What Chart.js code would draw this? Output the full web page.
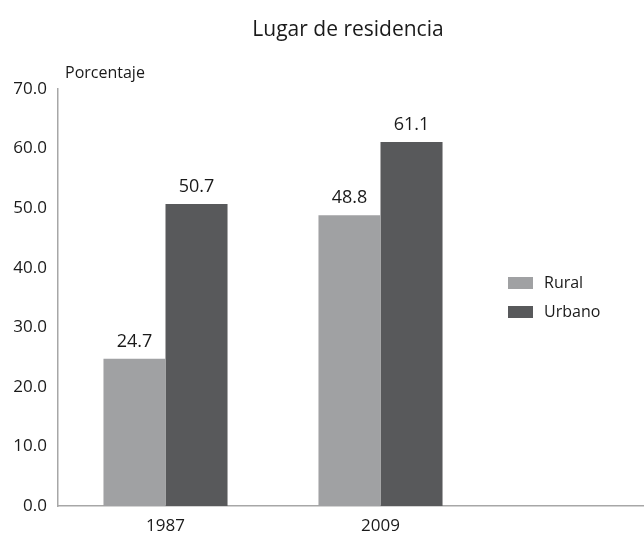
<!DOCTYPE html>
<html>
<head>
<meta charset="utf-8">
<script src="https://cdn.jsdelivr.net/npm/chart.js@4"></script>
<style>
  html, body { margin: 0; padding: 0; background: #fff; overflow: hidden; width: 644px; height: 533px; }
  canvas { display: block; }
</style>
</head>
<body>
<canvas id="residenciaChart" width="712" height="548"></canvas>
<script>
const ctx = document.getElementById('residenciaChart').getContext('2d');

const years = ['1987', '2009', ''];
const rural = [24.7, 48.8, null];
const urbano = [50.7, 61.1, null];
const seriesNames = ['Rural', 'Urbano'];
const seriesColors = ['#a0a1a3', '#58595b'];
const yTicks = [0, 10, 20, 30, 40, 50, 60, 70];

const FONT = '"Open Sans", "Noto Sans", sans-serif';
const TEXT = '#1a1a1a';
const AXIS = '#a7a7a7';

// title, y label, value labels and legend
const extrasPlugin = {
  id: 'extrasPlugin',
  afterDatasetsDraw(chart) {
    const { ctx, chartArea: { top, left } } = chart;
    ctx.save();
    ctx.fillStyle = TEXT;

    ctx.font = '21px ' + FONT;
    ctx.textAlign = 'center';
    ctx.textBaseline = 'alphabetic';
    ctx.fillText('Lugar de residencia', 348, 36);

    ctx.font = '16px ' + FONT;
    ctx.textAlign = 'left';
    ctx.fillText('Porcentaje', left + 7, top - 11);

    ctx.font = '18px ' + FONT;
    ctx.textAlign = 'center';
    chart.data.datasets.forEach((ds, di) => {
      chart.getDatasetMeta(di).data.forEach((bar, i) => {
        if (ds.data[i] == null) return;
        ctx.fillText(ds.data[i].toFixed(1), bar.x, bar.y - 12);
      });
    });

    ctx.font = '16px ' + FONT;
    ctx.textAlign = 'left';
    ctx.textBaseline = 'middle';
    seriesNames.forEach((name, i) => {
      const y = 283 + i * 29;
      ctx.fillStyle = seriesColors[i];
      ctx.fillRect(508, y - 6, 25, 12);
      ctx.fillStyle = TEXT;
      ctx.fillText(name, 544, y);
    });
    ctx.restore();
  }
};

new Chart(ctx, {
  type: 'bar',
  data: {
    labels: years,
    datasets: [
      { label: seriesNames[0], data: rural, backgroundColor: seriesColors[0] },
      { label: seriesNames[1], data: urbano, backgroundColor: seriesColors[1] }
    ]
  },
  options: {
    responsive: false,
    animation: false,
    layout: { padding: { top: 89, right: 9, left: 0, bottom: 0 } },
    datasets: { bar: { categoryPercentage: 0.577, barPercentage: 1.0 } },
    scales: {
      y: {
        min: 0,
        max: 70,
        afterBuildTicks: scale => { scale.ticks = yTicks.map(v => ({ value: v })); },
        afterFit: scale => { scale.width = 58; },
        ticks: {
          color: TEXT,
          padding: 3,
          font: { family: FONT, size: 17 },
          callback: v => Number(v).toFixed(1)
        },
        grid: { display: false },
        border: { color: AXIS, width: 1.5 }
      },
      x: {
        afterFit: scale => { scale.height = 42; },
        ticks: { color: TEXT, padding: 2, font: { family: FONT, size: 17 } },
        grid: { display: false },
        border: { color: AXIS, width: 1.5 }
      }
    },
    plugins: {
      legend: { display: false },
      title: { display: false },
      tooltip: { enabled: false }
    }
  },
  plugins: [extrasPlugin]
});
</script>
</body>
</html>
